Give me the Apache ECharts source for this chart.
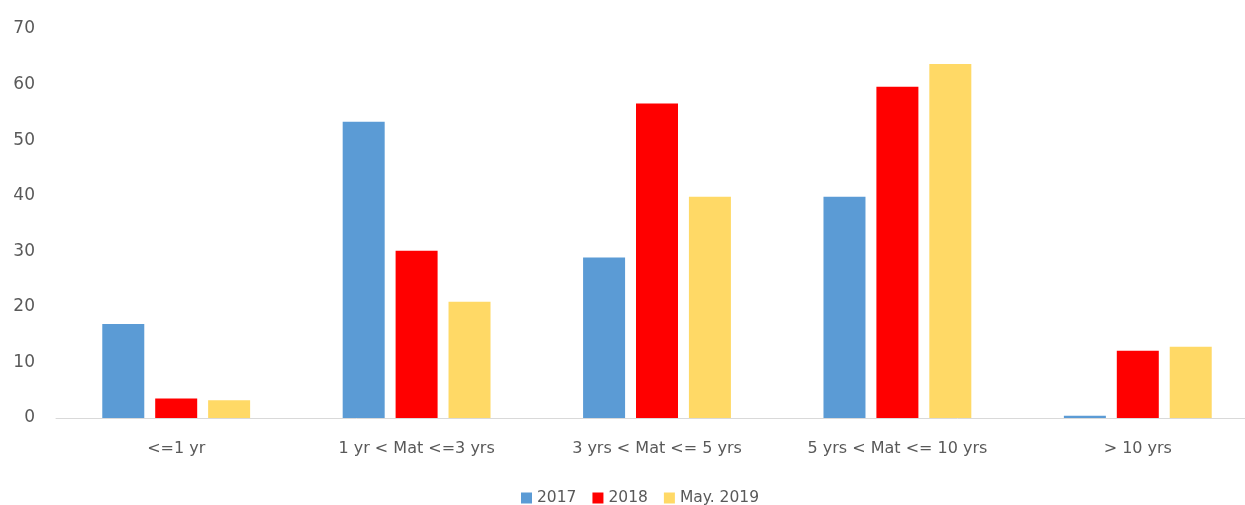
<!DOCTYPE html>
<html>
<head>
<meta charset="utf-8">
<script src="https://cdn.jsdelivr.net/npm/echarts@6/dist/echarts.min.js"></script>
<style>html,body{margin:0;padding:0;background:#fff;overflow:hidden}#c{width:1260px;height:505px}</style>
</head>
<body>
<div id="c"></div>
<script>
const categories = ['<=1 yr', '1 yr < Mat <=3 yrs', '3 yrs < Mat <= 5 yrs', '5 yrs < Mat <= 10 yrs', '> 10 yrs'];
const s2017 = [16.9, 53.3, 28.9, 39.8, 0.4];
const s2018 = [3.5, 30.1, 56.6, 59.6, 12.1];
const sMay2019 = [3.2, 20.9, 39.8, 63.7, 12.8];
const yTicks = [0, 10, 20, 30, 40, 50, 60, 70];

const font = 'DejaVu Sans, sans-serif';
const chart = echarts.init(document.getElementById('c'), null, {renderer: 'canvas'});
chart.setOption({
  animation: false,
  backgroundColor: '#fff',
  grid: {left: 56, right: 2, top: 29, bottom: 87, containLabel: false},
  legend: {
    top: 485, left: 516,
    itemWidth: 11, itemHeight: 11, itemGap: 16,
    icon: 'rect',
    textStyle: {color: '#595959', fontSize: 15.5, fontFamily: font},
    data: ['2017', '2018', 'May. 2019']
  },
  xAxis: {
    type: 'category', data: categories,
    axisLine: {lineStyle: {color: '#D9D9D9', width: 1}},
    axisTick: {show: false},
    axisLabel: {color: '#595959', fontSize: 16, fontFamily: font, margin: 23, interval: 0}
  },
  yAxis: {
    type: 'value', min: yTicks[0], max: yTicks[yTicks.length - 1], interval: 10,
    axisLine: {show: false}, axisTick: {show: false}, splitLine: {show: false},
    axisLabel: {color: '#595959', fontSize: 17, fontFamily: font, margin: 21}
  },
  series: [
    {name: '2017', type: 'bar', data: s2017, barWidth: 42, barGap: '26%', itemStyle: {color: '#5B9BD5'}},
    {name: '2018', type: 'bar', data: s2018, barWidth: 42, barGap: '26%', itemStyle: {color: '#FF0000'}},
    {name: 'May. 2019', type: 'bar', data: sMay2019, barWidth: 42, barGap: '26%', itemStyle: {color: '#FFD966'}}
  ]
});
</script>
</body>
</html>
